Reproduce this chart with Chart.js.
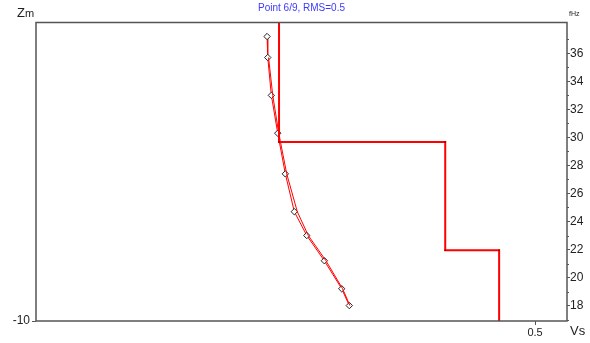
<!DOCTYPE html>
<html>
<head>
<meta charset="utf-8">
<script src="https://cdn.jsdelivr.net/npm/chart.js@4"></script>
<style>
  body { margin: 0; background: #fff; }
  #wrap { width: 590px; height: 343px; }
</style>
</head>
<body>
<div id="wrap"><canvas id="grafico" width="590" height="343"></canvas></div>
<script>
// Perfil de velocidades (Vs por capa, profundidad de la base de cada capa)
const capaVs = [0.2435, 0.410, 0.464];
const capaBase = [-4.0, -7.63, -10];

// Curva de dispersión medida (frecuencia, Vs)
const freqMedida = [37.2, 35.7, 33.0, 30.3, 27.4, 24.7, 23.0, 21.2, 19.2, 18.0];
const vsMedida = [0.2315, 0.2322, 0.2358, 0.2422, 0.2498, 0.2588, 0.2713, 0.2889, 0.3063, 0.3139];

// Curva teórica del modelo
const freqModelo = [35.7, 33.0, 30.3, 27.4, 24.7, 23.0, 21.2, 19.2, 18.0];
const vsModelo = [0.2330, 0.2372, 0.2432, 0.2512, 0.2618, 0.2728, 0.2905, 0.3072, 0.3145];

// Ticks de los ejes
const ticksVs = [0.5];
const ticksZ = [-10];
const ticksFreq = [18, 20, 22, 24, 26, 28, 30, 32, 34, 36];
const ticksFreqMenores = [17, 19, 21, 23, 25, 27, 29, 31, 33, 35, 37];

const titulo = "Point 6/9, RMS=0.5";

// Armar el escalón del perfil
const perfil = [];
let zTop = 0;
capaVs.forEach((vs, i) => {
  perfil.push({ x: vs, y: zTop });
  perfil.push({ x: vs, y: capaBase[i] });
  zTop = capaBase[i];
});

const medida = freqMedida.map((f, i) => ({ x: vsMedida[i], y: f }));
const modelo = freqModelo.map((f, i) => ({ x: vsModelo[i], y: f }));

const fuente = "'Liberation Sans', Arial, sans-serif";
const grisEje = "#555";
const colorTexto = "#222";

// Marco, ticks menores y rótulos de ejes
const marcoPlugin = {
  id: "marco",
  afterDatasetsDraw(chart) {
    const { ctx, chartArea: a, scales } = chart;
    ctx.save();
    ctx.strokeStyle = grisEje;
    ctx.lineWidth = 1.5;
    ctx.strokeRect(a.left, a.top, a.right - a.left, a.bottom - a.top);

    ctx.lineWidth = 1;
    ctx.beginPath();
    ticksFreqMenores.forEach(v => {
      const y = Math.round(scales.yf.getPixelForValue(v)) + 0.5;
      ctx.moveTo(a.right, y);
      ctx.lineTo(a.right + 2, y);
    });
    ctx.stroke();

    ctx.fillStyle = colorTexto;
    ctx.textBaseline = "alphabetic";
    ctx.textAlign = "left";
    ctx.font = "13px " + fuente;
    ctx.fillText("Z", 17, 17);
    ctx.font = "11px " + fuente;
    ctx.fillText("m", 25, 17);
    ctx.font = "7px " + fuente;
    ctx.fillText("fHz", 569, 16);
    ctx.font = "13px " + fuente;
    ctx.fillText("Vs", 570, 335);
    ctx.restore();
  }
};

new Chart(document.getElementById("grafico"), {
  type: "scatter",
  data: {
    datasets: [
      {
        label: "perfil",
        data: perfil,
        xAxisID: "x",
        yAxisID: "y",
        showLine: true,
        borderColor: "#ff0000",
        borderWidth: 2,
        pointRadius: 1.2,
        pointStyle: "rect",
        pointBackgroundColor: "#a00000",
        pointBorderWidth: 0
      },
      {
        label: "modelo",
        data: modelo,
        xAxisID: "x",
        yAxisID: "yf",
        showLine: true,
        borderColor: "#ff0000",
        borderWidth: 1,
        pointRadius: 0
      },
      {
        label: "medida",
        data: medida,
        xAxisID: "x",
        yAxisID: "yf",
        showLine: true,
        borderColor: "#ff0000",
        borderWidth: 1,
        pointStyle: "rectRot",
        pointRadius: 3.2,
        pointBackgroundColor: "#fff",
        pointBorderColor: "#222",
        pointBorderWidth: 1
      }
    ]
  },
  options: {
    responsive: false,
    animation: false,
    layout: { padding: 0 },
    plugins: {
      legend: { display: false },
      tooltip: { enabled: false },
      title: {
        display: true,
        text: titulo,
        fullSize: false,
        color: "#3a3aff",
        font: { family: fuente, size: 10, weight: "normal" },
        padding: { top: 2, bottom: 8.5 }
      }
    },
    scales: {
      x: {
        type: "linear",
        position: "bottom",
        min: 0,
        max: 0.532,
        border: { display: false },
        grid: { drawOnChartArea: false, tickLength: 4, color: grisEje },
        afterBuildTicks: s => { s.ticks = ticksVs.map(v => ({ value: v })); },
        afterFit: s => { s.height = 22; },
        ticks: { color: colorTexto, font: { family: fuente, size: 11 }, padding: 1, maxRotation: 0 }
      },
      y: {
        type: "linear",
        position: "left",
        min: -10,
        max: 0,
        border: { display: false },
        grid: { drawOnChartArea: false, tickLength: 4, color: grisEje },
        afterBuildTicks: s => { s.ticks = ticksZ.map(v => ({ value: v })); },
        afterFit: s => { s.width = 36; },
        ticks: { color: colorTexto, font: { family: fuente, size: 12 }, padding: 2 }
      },
      yf: {
        type: "linear",
        position: "right",
        min: 16.9,
        max: 38.2,
        border: { display: false },
        grid: { drawOnChartArea: false, tickLength: 3, color: grisEje },
        afterBuildTicks: s => { s.ticks = ticksFreq.map(v => ({ value: v })); },
        afterFit: s => { s.width = 23; },
        ticks: { color: colorTexto, font: { family: fuente, size: 12 }, padding: 0 }
      }
    }
  },
  plugins: [marcoPlugin]
});
</script>
</body>
</html>
